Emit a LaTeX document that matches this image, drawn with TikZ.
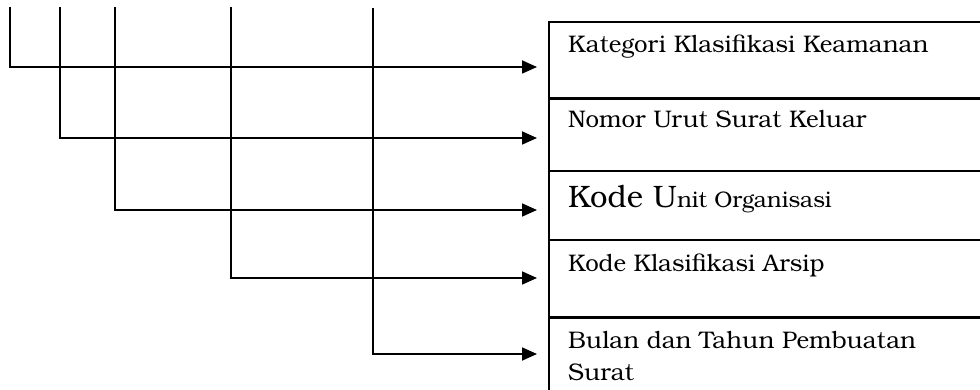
\documentclass[tikz,border=0pt]{standalone}
\usepackage{fontspec}
\setmainfont{TeX Gyre Bonum}
\usetikzlibrary{arrows.meta}
\begin{document}
\begin{tikzpicture}[x=1pt,y=-1pt,
  conn/.style={line width=1.8pt,-{Triangle[length=15pt,width=13pt]}},
  cellbox/.style={draw,line width=1.8pt,anchor=north west,minimum width=460pt,inner sep=0pt},
  thickline/.style={line width=3.2pt},
  label/.style={anchor=base west,inner sep=0pt,font=\fontsize{24}{32}\selectfont,align=left}]
\useasboundingbox (0,0) rectangle (980,390);
\clip (0,0) rectangle (980,390);
% cells
\node[cellbox,minimum height=76pt] (c1) at (548,21) {};
\node[cellbox,minimum height=73pt] (c2) at (548,97) {};
\node[cellbox,minimum height=69pt] (c3) at (548,170) {};
\node[cellbox,minimum height=77pt] (c4) at (548,239) {};
\node[cellbox,minimum height=90pt] (c5) at (548,316) {};
\draw[thickline] (c1.south west) -- (c1.south east);
\draw[thickline] (c4.south west) -- (c4.south east);
% texts
\node[label] (t1) at (568,53) {Kategori Klasifikasi Keamanan};
\node[label] (t2) at (568,128) {Nomor Urut Surat Keluar};
\node[label] (t3) at (568,208) {{\fontsize{31}{32}\selectfont Kode U}{\fontsize{22.5}{32}\selectfont nit Organisasi}};
\node[label] (t4) at (568,272) {Kode Klasifikasi Arsip};
\node[label] (t5) at (568,380) {Bulan dan Tahun Pembuatan\\Surat};
% line starts and arrow ends
\coordinate (s1) at (10,7);
\coordinate (s2) at (60,7);
\coordinate (s3) at (115,7);
\coordinate (s4) at (231,7);
\coordinate (s5) at (373,8);
\coordinate (e1) at (537,67);
\coordinate (e2) at (537,138);
\coordinate (e3) at (537,210);
\coordinate (e4) at (537,278);
\coordinate (e5) at (537,354);
\draw[conn] (s1) |- (e1);
\draw[conn] (s2) |- (e2);
\draw[conn] (s3) |- (e3);
\draw[conn] (s4) |- (e4);
\draw[conn] (s5) |- (e5);
\end{tikzpicture}
\end{document}
